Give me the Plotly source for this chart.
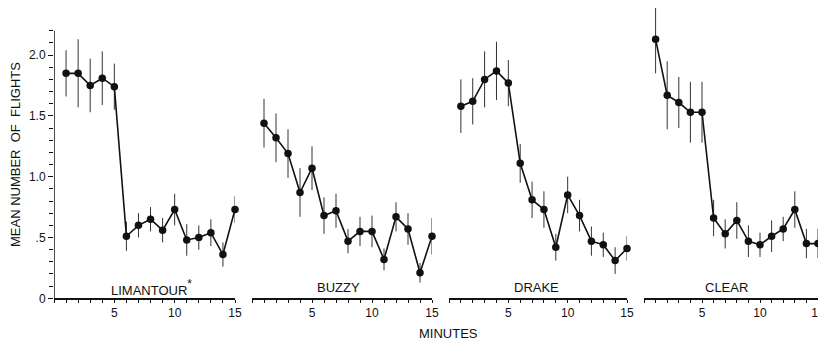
import plotly.graph_objects as go
import numpy as np

minutes = list(range(1, 16))
panel_names = ["LIMANTOUR<span style='font-size:17px'><sup>*</sup></span>", "BUZZY", "DRAKE", "CLEAR"]

limantour_mean = [1.85, 1.85, 1.75, 1.81, 1.74, 0.51, 0.60, 0.65, 0.56, 0.73, 0.48, 0.50, 0.54, 0.36, 0.73]
limantour_err = [0.19, 0.28, 0.22, 0.22, 0.19, 0.12, 0.10, 0.10, 0.10, 0.13, 0.13, 0.10, 0.11, 0.10, 0.11]

buzzy_mean = [1.44, 1.32, 1.19, 0.87, 1.07, 0.68, 0.72, 0.47, 0.55, 0.55, 0.32, 0.67, 0.57, 0.21, 0.51]
buzzy_err = [0.20, 0.20, 0.20, 0.20, 0.18, 0.15, 0.14, 0.10, 0.12, 0.13, 0.09, 0.12, 0.13, 0.08, 0.15]

drake_mean = [1.58, 1.62, 1.80, 1.87, 1.77, 1.11, 0.81, 0.73, 0.42, 0.85, 0.68, 0.47, 0.44, 0.31, 0.41]
drake_err = [0.22, 0.19, 0.23, 0.24, 0.19, 0.16, 0.15, 0.15, 0.11, 0.15, 0.13, 0.12, 0.10, 0.11, 0.10]

clear_mean = [2.13, 1.67, 1.61, 1.53, 1.53, 0.66, 0.53, 0.64, 0.47, 0.44, 0.51, 0.57, 0.73, 0.45, 0.45]
clear_err = [0.28, 0.28, 0.21, 0.25, 0.25, 0.15, 0.12, 0.15, 0.13, 0.10, 0.13, 0.10, 0.15, 0.12, 0.12]

y_tick_vals = [0, 0.5, 1.0, 1.5, 2.0]
y_tick_text = ["0", ".5", "1.0", "1.5", "2.0"]
x_tick_vals = [5, 10, 15]
x_tick_text = ["5", "10", "15"]

means = [limantour_mean, buzzy_mean, drake_mean, clear_mean]
errs = [limantour_err, buzzy_err, drake_err, clear_err]

# the page body adds an 8px margin; lay out in window pixels and shift
OFF = 8
W, H = 826 - OFF, 344 - OFF
INK = "#111111"
FONT = "Liberation Sans"


def fx(px):
    return (px - OFF) / W


def fy(py):
    return 1 - (py - OFF) / H


# panel pixel extents (x=0 .. x=15) in window pixels
px_domains = [(54, 235), (252, 432), (449, 627), (644, 818)]
label_pos = [0.54, 0.483, 0.489, 0.475]
y0_px = 298.3
y_top = (y0_px - OFF) / 121.6

fig = go.Figure()
for i in range(4):
    sfx = "" if i == 0 else str(i + 1)
    fig.add_trace(go.Scatter(
        x=minutes, y=means[i], mode="lines+markers",
        xaxis="x" + sfx, yaxis="y" + sfx,
        line=dict(color=INK, width=1.6),
        marker=dict(color=INK, size=7.5),
        error_y=dict(type="data", array=errs[i], symmetric=True, width=0,
                     thickness=1, color="#333333"),
        cliponaxis=False, showlegend=False, hoverinfo="skip",
    ))

layout = dict(
    template="none",
    width=W, height=H, autosize=False,
    margin=dict(l=0, r=0, t=0, b=0, pad=0),
    paper_bgcolor="white", plot_bgcolor="white",
    font=dict(family=FONT, color=INK, size=12),
    showlegend=False,
)

y_minor = [round(v, 1) for v in np.arange(0.1, 2.21, 0.1) if round(v, 1) not in y_tick_vals]
x_minor = [v for v in range(0, 16) if v not in x_tick_vals]

for i in range(4):
    sfx = "" if i == 0 else str(i + 1)
    d0, d1 = px_domains[i]
    layout["xaxis" + sfx] = dict(
        domain=[fx(d0), fx(d1)], range=[0, 15], anchor="y" + sfx, automargin=False,
        showgrid=False, zeroline=False, showline=True, linecolor=INK, linewidth=1.5,
        tickmode="array", tickvals=x_tick_vals, ticktext=x_tick_text,
        ticks="outside", ticklen=3, tickwidth=1.2, tickcolor=INK,
        ticklabeloverflow="allow",
        tickfont=dict(size=12, color=INK, family=FONT),
        minor=dict(tickmode="array", tickvals=x_minor, ticks="outside",
                   ticklen=3, tickwidth=1.2, tickcolor=INK, showgrid=False),
    )
    ydict = dict(
        domain=[fy(y0_px), 1], range=[0, y_top], anchor="x" + sfx, automargin=False,
        showgrid=False, zeroline=False, showline=False,
    )
    if i == 0:
        ydict.update(
            tickmode="array", tickvals=y_tick_vals, ticktext=y_tick_text,
            ticks="outside", ticklen=5, tickwidth=1.2, tickcolor=INK,
            tickfont=dict(size=12, color=INK, family=FONT),
            minor=dict(tickmode="array", tickvals=y_minor, ticks="outside",
                       ticklen=4, tickwidth=1.2, tickcolor=INK, showgrid=False),
        )
    else:
        ydict.update(visible=False, matches="y")
    layout["yaxis" + sfx] = ydict

fig.update_layout(**layout)

# y axis line only up to 2.2
fig.add_shape(type="line", xref="x", yref="y", x0=0, x1=0, y0=0, y1=2.2,
              line=dict(color=INK, width=1.5))

annotations = []
for i in range(4):
    sfx = "" if i == 0 else str(i + 1)
    annotations.append(dict(
        text=panel_names[i], xref="x" + sfx + " domain", yref="paper",
        x=label_pos[i], y=fy(287), xanchor="center", yanchor="middle",
        showarrow=False, font=dict(size=13, color=INK, family=FONT),
    ))
annotations.append(dict(
    text="MINUTES", xref="paper", yref="paper", x=fx(448), y=fy(333),
    xanchor="center", yanchor="middle", showarrow=False,
    font=dict(size=13, color=INK, family=FONT),
))
annotations.append(dict(
    text="MEAN NUMBER&nbsp;&nbsp;OF&nbsp;&nbsp;FLIGHTS", xref="paper", yref="paper",
    x=fx(15), y=fy(155), xanchor="center", yanchor="middle", textangle=-90,
    showarrow=False, font=dict(size=13, color=INK, family=FONT),
))
fig.update_layout(annotations=annotations)

fig.write_html("out.html")
